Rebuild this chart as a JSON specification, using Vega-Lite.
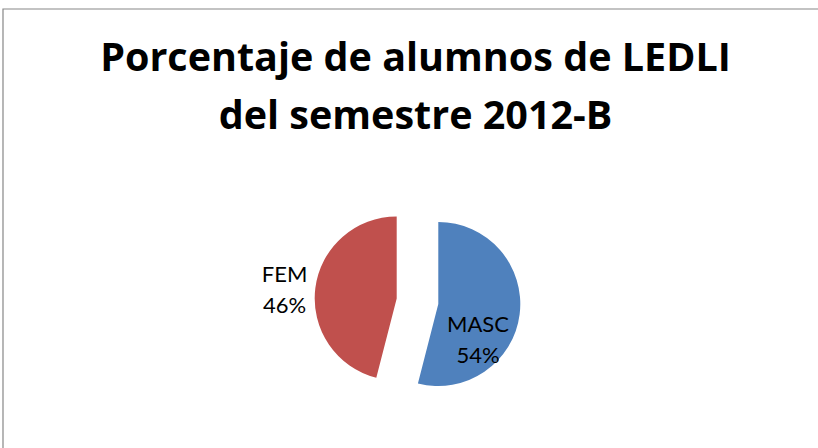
{
  "$schema": "https://vega.github.io/schema/vega-lite/v6.json",
  "width": 818,
  "height": 448,
  "autosize": {"type": "none"},
  "padding": {"left": 3, "top": 9, "right": -3, "bottom": -9},
  "background": "white",
  "config": {"view": {"stroke": null}, "font": "Lato"},
  "title": {
    "text": ["Porcentaje de alumnos de LEDLI", "del semestre 2012-B"],
    "fontSize": 39.5,
    "font": "Open Sans",
    "fontWeight": "bold",
    "color": "#000000",
    "anchor": "middle",
    "baseline": "alphabetic",
    "lineHeight": 58,
    "offset": -160,
    "dx": 3.5
  },
  "data": {
    "values": [
      {"sexo": "MASC", "pct": 54, "orden": 1},
      {"sexo": "FEM", "pct": 46, "orden": 2}
    ]
  },
  "transform": [
    {"stack": "pct", "groupby": [], "sort": [{"field": "orden"}], "as": ["v0", "v1"]},
    {"calculate": "(datum.v0 + datum.v1) / 2", "as": "mid"},
    {"calculate": "datum.sexo + '\\n' + datum.pct + '%'", "as": "label"}
  ],
  "layer": [
    {
      "transform": [{"filter": "datum.orden === 1"}],
      "mark": {"type": "rect", "fill": null, "stroke": "#878787", "strokeWidth": 1.2},
      "encoding": {}
    },
    {
      "transform": [{"filter": "datum.sexo === 'MASC'"}],
      "mark": {"type": "arc", "radius": 82, "xOffset": 26.3, "yOffset": 71},
      "encoding": {
        "theta": {"field": "v0", "type": "quantitative", "scale": {"domain": [0, 100]}},
        "theta2": {"field": "v1"},
        "color": {"field": "sexo", "type": "nominal", "scale": {"domain": ["MASC", "FEM"], "range": ["#4F81BD", "#C0504D"]}, "legend": null}
      }
    },
    {
      "transform": [{"filter": "datum.sexo === 'FEM'"}],
      "mark": {"type": "arc", "radius": 82, "xOffset": -15.3, "yOffset": 65.4},
      "encoding": {
        "theta": {"field": "v0", "type": "quantitative", "scale": {"domain": [0, 100]}},
        "theta2": {"field": "v1"},
        "color": {"field": "sexo", "type": "nominal", "scale": {"domain": ["MASC", "FEM"], "range": ["#4F81BD", "#C0504D"]}, "legend": null}
      }
    },
    {
      "transform": [{"filter": "datum.sexo === 'MASC'"}],
      "mark": {"type": "text", "radius": 40, "xOffset": 26.3, "yOffset": 87, "fontSize": 22, "lineHeight": 31, "lineBreak": "\n", "align": "center", "baseline": "middle", "color": "#000000", "font": "Lato"},
      "encoding": {
        "theta": {"field": "mid", "type": "quantitative", "scale": {"domain": [0, 100]}},
        "text": {"field": "label"}
      }
    },
    {
      "transform": [{"filter": "datum.sexo === 'FEM'"}],
      "mark": {"type": "text", "radius": 112, "xOffset": -16.3, "yOffset": 56.5, "fontSize": 22, "lineHeight": 31, "lineBreak": "\n", "align": "center", "baseline": "middle", "color": "#000000", "font": "Lato"},
      "encoding": {
        "theta": {"field": "mid", "type": "quantitative", "scale": {"domain": [0, 100]}},
        "text": {"field": "label"}
      }
    }
  ]
}
